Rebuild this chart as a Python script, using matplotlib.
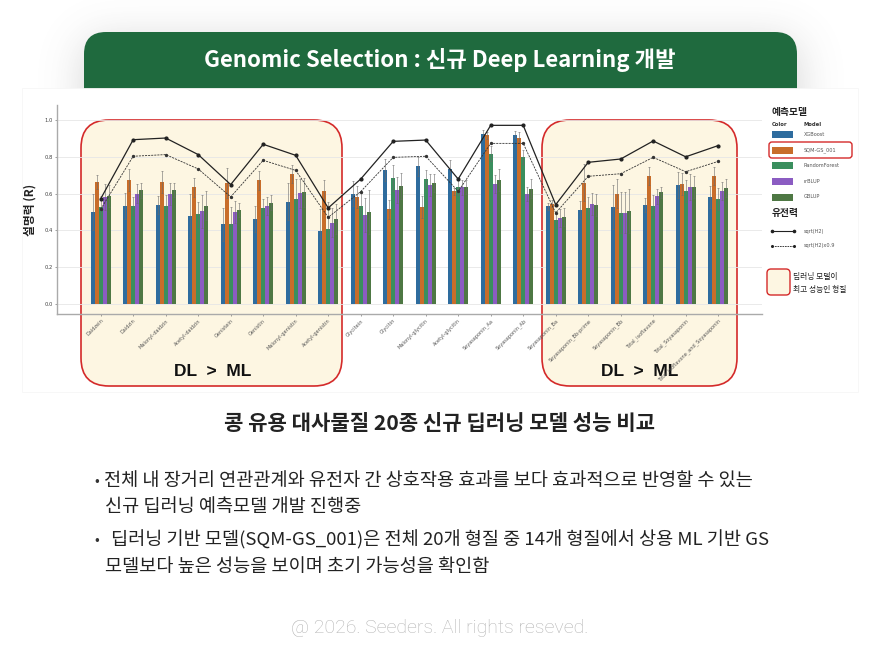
import numpy as np
import matplotlib
matplotlib.use("Agg")
import matplotlib.pyplot as plt
from matplotlib.patches import FancyBboxPatch, Rectangle
from matplotlib.lines import Line2D

plt.rcParams['font.family'] = ['Noto Sans CJK KR', 'DejaVu Sans']

# ---------------- data ----------------
traits = ["Daidzein", "Daidzin", "Malonyl-daidzin", "Acetyl-daidzin", "Genistein",
          "Genistin", "Malonyl-genistin", "Acetyl-genistin", "Glycitein", "Glycitin",
          "Malonyl-glycitin", "Acetyl-glycitin", "Soyasaponin_Aa", "Soyasaponin_Ab",
          "Soyasaponin_Ba", "Soyasaponin_Bb-prime", "Soyasaponin_Bb", "Total_isoflavone",
          "Total_Soyasaponin", "Total_isoflavone_and_Soyasaponin"]
model_names = ["XGBoost", "SQM-GS_001", "RandomForest", "rrBLUP", "GBLUP"]

xgboost = [0.500, 0.534, 0.538, 0.480, 0.433, 0.462, 0.556, 0.395, 0.600, 0.730,
           0.748, 0.732, 0.926, 0.920, 0.531, 0.511, 0.525, 0.538, 0.645, 0.582]
sqm_gs = [0.663, 0.676, 0.665, 0.634, 0.658, 0.672, 0.708, 0.614, 0.583, 0.514,
          0.529, 0.612, 0.917, 0.904, 0.545, 0.659, 0.600, 0.697, 0.654, 0.696]
random_forest = [0.525, 0.534, 0.533, 0.487, 0.437, 0.520, 0.569, 0.406, 0.533, 0.683,
                 0.678, 0.634, 0.817, 0.799, 0.455, 0.520, 0.496, 0.534, 0.616, 0.569]
rrblup = [0.580, 0.600, 0.600, 0.504, 0.500, 0.534, 0.601, 0.442, 0.484, 0.621,
          0.645, 0.634, 0.652, 0.598, 0.469, 0.545, 0.496, 0.585, 0.634, 0.614]
gblup = [0.585, 0.618, 0.620, 0.534, 0.511, 0.551, 0.607, 0.462, 0.500, 0.640,
         0.659, 0.636, 0.674, 0.627, 0.473, 0.538, 0.505, 0.607, 0.638, 0.630]

err_xgboost = [0.10, 0.07, 0.05, 0.12, 0.09, 0.07, 0.10, 0.12, 0.07, 0.06,
               0.05, 0.05, 0.02, 0.02, 0.02, 0.05, 0.12, 0.04, 0.07, 0.06]
err_sqm = [0.04, 0.06, 0.06, 0.05, 0.08, 0.05, 0.05, 0.06, 0.06, 0.05,
           0.06, 0.02, 0.02, 0.03, 0.02, 0.10, 0.08, 0.05, 0.06, 0.05]
err_rf = [0.06, 0.05, 0.06, 0.07, 0.09, 0.05, 0.11, 0.15, 0.07, 0.07,
          0.05, 0.04, 0.04, 0.04, 0.04, 0.06, 0.11, 0.06, 0.06, 0.06]
err_rrblup = [0.07, 0.05, 0.06, 0.09, 0.06, 0.05, 0.08, 0.08, 0.09, 0.07,
              0.06, 0.04, 0.05, 0.04, 0.05, 0.06, 0.11, 0.04, 0.07, 0.05]
err_gblup = [0.06, 0.04, 0.04, 0.08, 0.04, 0.04, 0.08, 0.08, 0.12, 0.07,
             0.05, 0.04, 0.06, 0.05, 0.05, 0.06, 0.12, 0.03, 0.06, 0.05]

sqrt_h2 = [0.572, 0.893, 0.902, 0.812, 0.649, 0.868, 0.808, 0.522, 0.679, 0.884,
           0.891, 0.679, 0.971, 0.971, 0.540, 0.770, 0.788, 0.886, 0.800, 0.861]
sqrt_h2_09 = [0.515, 0.803, 0.812, 0.734, 0.582, 0.781, 0.726, 0.471, 0.611, 0.797,
              0.803, 0.612, 0.873, 0.873, 0.495, 0.694, 0.708, 0.797, 0.719, 0.775]

y_ticks = [0.0, 0.2, 0.4, 0.6, 0.8, 1.0]

series = [xgboost, sqm_gs, random_forest, rrblup, gblup]
errors = [err_xgboost, err_sqm, err_rf, err_rrblup, err_gblup]
colors = ["#2e6c9e", "#c86d2a", "#3a8f5e", "#8b5cc2", "#4e7844"]

W, H = 880, 654
fig = plt.figure(figsize=(W / 100, H / 100), dpi=100)
fig.patch.set_facecolor("white")

# background axes in pixel coordinates
bg = fig.add_axes([0, 0, 1, 1], zorder=0)
bg.set_xlim(0, W)
bg.set_ylim(H, 0)
bg.axis("off")

# soft shadow around header
SH, SW = 170, W
yy, xx = np.mgrid[0:SH, 0:SW]
mask = ((xx >= 86) & (xx <= 795) & (yy >= 42) & (yy <= 150)).astype(float)
k = np.exp(-0.5 * (np.arange(-70, 71) / 22.0) ** 2)
k /= k.sum()
m = np.apply_along_axis(lambda r: np.convolve(r, k, mode="same"), 1, mask)
m = np.apply_along_axis(lambda c: np.convolve(c, k, mode="same"), 0, m)
rgba = np.zeros((SH, SW, 4))
rgba[..., :3] = 0.42
rgba[..., 3] = m * 0.30
bg.imshow(rgba, extent=(0, SW, SH, 0), aspect="auto", zorder=0.5, interpolation="bilinear")
bg.set_xlim(0, W)
bg.set_ylim(H, 0)

# header
bg.add_patch(FancyBboxPatch((84, 32), 713, 90, boxstyle="round,pad=0,rounding_size=22",
                            fc="#1f6a3e", ec="none", zorder=1))
bg.text(440, 60, "Genomic Selection : 신규 Deep Learning 개발", color="white",
        fontsize=16, fontweight="bold", ha="center", va="center", zorder=2)

# chart image area
bg.add_patch(Rectangle((22, 88), 836, 304, fc="white", ec="#f6f6f6", lw=0.6, zorder=3))

# highlight boxes
for (x0, x1) in [(81, 342), (542, 737)]:
    bg.add_patch(FancyBboxPatch((x0, 120), x1 - x0, 266, boxstyle="round,pad=0,rounding_size=28",
                                fc="#fdf6e2", ec="#d42a2a", lw=1.2, zorder=4))
bg.text(213, 371, "DL  >  ML", fontsize=12.5, fontweight="bold", ha="center", va="center",
        color="#111111", zorder=5, family=["Liberation Sans", "DejaVu Sans"])
bg.text(640, 371, "DL  >  ML", fontsize=12.5, fontweight="bold", ha="center", va="center",
        color="#111111", zorder=5, family=["Liberation Sans", "DejaVu Sans"])

# legend (manual, pixel coordinates)
bg.text(772, 112, "예측모델", fontsize=7, fontweight="bold", ha="left", va="center", color="#222", zorder=5)
bg.text(772, 124, "Color", fontsize=3.8, fontweight="bold", ha="left", va="center", color="#333", zorder=5,
        family=["DejaVu Sans"])
bg.text(804, 124, "Model", fontsize=3.8, fontweight="bold", ha="left", va="center", color="#333", zorder=5,
        family=["DejaVu Sans"])
leg_y = [134.5, 150, 165.5, 181.5, 197]
for yv, c, name in zip(leg_y, colors, model_names):
    bg.add_patch(Rectangle((772, yv - 3.5), 21, 7, fc=c, ec="none", zorder=5))
    bg.text(804, yv, name, fontsize=3.6, ha="left", va="center", color="#555", zorder=5,
            family=["DejaVu Sans"])
bg.add_patch(FancyBboxPatch((769, 142), 83, 16, boxstyle="round,pad=0,rounding_size=3",
                            fc="none", ec="#d42a2a", lw=1.0, zorder=6))
bg.text(772, 213, "유전력", fontsize=7, fontweight="bold", ha="left", va="center", color="#222", zorder=5)
bg.add_line(Line2D([772, 794], [231, 231], color="#222", lw=0.8, marker="o", ms=1.6,
                   markevery=[0, 1], zorder=5))
bg.add_line(Line2D([772, 794], [246, 246], color="#222", lw=0.6, ls=(0, (2, 1)), marker="o", ms=1.2,
                   markevery=[0, 1], zorder=5))
bg.text(804, 231, "sqrt(H2)", fontsize=3.6, ha="left", va="center", color="#555", zorder=5,
        family=["DejaVu Sans"])
bg.text(804, 246, "sqrt(H2)x0.9", fontsize=3.6, ha="left", va="center", color="#555", zorder=5,
        family=["DejaVu Sans"])
bg.add_patch(FancyBboxPatch((767, 269), 23, 26, boxstyle="round,pad=0,rounding_size=4",
                            fc="#fdf6e2", ec="#d42a2a", lw=1.0, zorder=5))
bg.text(793, 277, "딥러닝 모델이", fontsize=5.6, ha="left", va="center", color="#222", zorder=5)
bg.text(793, 289.5, "최고 성능인 형질", fontsize=5.6, ha="left", va="center", color="#222", zorder=5)

# ---------------- chart axes ----------------
ax_l, ax_r, ax_t, ax_b = 57, 762, 105, 314
ax = fig.add_axes([ax_l / W, 1 - ax_b / H, (ax_r - ax_l) / W, (ax_b - ax_t) / H], zorder=2)
ax.set_facecolor("none")
x = np.arange(len(traits))
bw = 0.125
for i, (vals, errs, c) in enumerate(zip(series, errors, colors)):
    ax.bar(x + (i - 2) * bw, vals, width=bw, color=c, yerr=errs, zorder=3,
           error_kw=dict(ecolor="#6a6a6a", elinewidth=0.5, capsize=1.0, capthick=0.5, alpha=0.8))
ax.plot(x, sqrt_h2, color="#222222", lw=0.9, marker="o", ms=2.0, zorder=4)
ax.plot(x, sqrt_h2_09, color="#333333", lw=0.6, ls=(0, (2.5, 1.2)), marker="o", ms=1.4, zorder=4)

ax.set_ylim(-10 / 184, (304 - ax_t) / 184)
ax.set_xlim((ax_l - 100.7) / 32.5, (ax_r - 100.7) / 32.5)
ax.set_yticks(y_ticks)
ax.set_yticklabels([f"{v:.1f}" for v in y_ticks], fontsize=3.8, color="#444",
                   family=["DejaVu Sans"])
ax.set_xticks(x)
ax.set_xticklabels(traits, rotation=45, ha="right", rotation_mode="anchor", fontsize=3.6,
                   color="#555", family=["DejaVu Sans"])
ax.tick_params(axis="both", length=1.5, width=0.5, color="#777", pad=1.5)
ax.grid(axis="y", color="#e6e6e6", lw=0.6, zorder=0)
ax.set_axisbelow(True)
for s in ["top", "right"]:
    ax.spines[s].set_visible(False)
for s in ["left", "bottom"]:
    ax.spines[s].set_color("#aaaaaa")
    ax.spines[s].set_linewidth(1.0)
ax.set_ylabel("설명력 (R)", fontsize=8.5, fontweight="bold", color="#222", labelpad=6)

# ---------------- text below ----------------
tx = fig.add_axes([0, 0, 1, 1], zorder=3)
tx.set_xlim(0, W)
tx.set_ylim(H, 0)
tx.axis("off")
tx.text(440, 423, "콩 유용 대사물질 20종 신규 딥러닝 모델 성능 비교", fontsize=15.2, fontweight="bold",
        ha="center", va="center", color="#222")
body = 13.4
tx.text(94, 481, "•", fontsize=10, ha="left", va="center", color="#333")
tx.text(104, 481, "전체 내 장거리 연관관계와 유전자 간 상호작용 효과를 보다 효과적으로 반영할 수 있는",
        fontsize=body, ha="left", va="center", color="#222")
tx.text(105, 507, "신규 딥러닝 예측모델 개발 진행중", fontsize=body, ha="left", va="center", color="#222")
tx.text(94, 540, "•", fontsize=10, ha="left", va="center", color="#333")
tx.text(111, 540, "딥러닝 기반 모델(SQM-GS_001)은 전체 20개 형질 중 14개 형질에서 상용 ML 기반 GS",
        fontsize=body, ha="left", va="center", color="#222")
tx.text(105, 567, "모델보다 높은 성능을 보이며 초기 가능성을 확인함", fontsize=body, ha="left", va="center",
        color="#222")
tx.text(440, 628, "@ 2026. Seeders. All rights reseved.", fontsize=14, ha="center", va="center",
        color="#b4b4b4", family=["Roboto", "DejaVu Sans"], fontweight="light")

fig.savefig("out.png", dpi=100, facecolor="white")
